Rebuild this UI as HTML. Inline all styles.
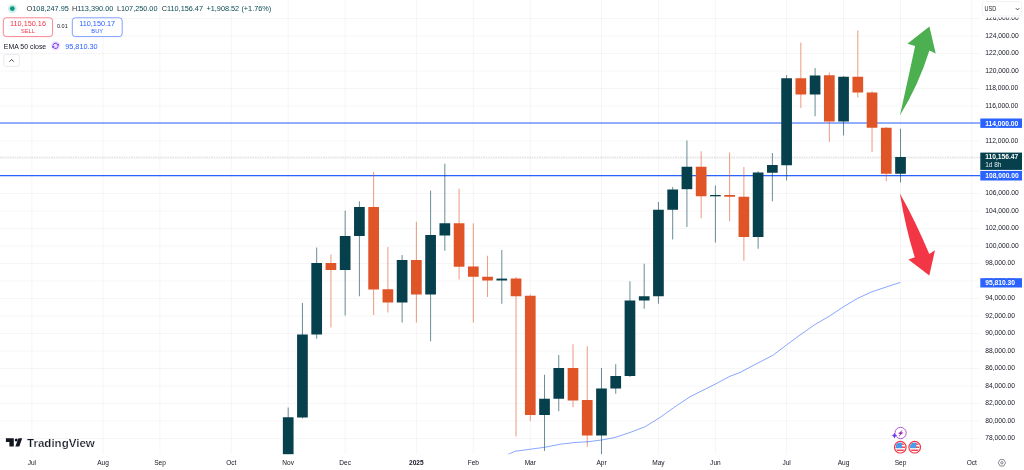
<!DOCTYPE html><html><head><meta charset="utf-8"><title>BTCUSD chart</title>
<style>html,body{margin:0;padding:0;background:#fff}body{width:1024px;height:470px;overflow:hidden}svg{display:block}text{font-family:"Liberation Sans",Arial,sans-serif}</style></head><body>
<svg width="1024" height="470" viewBox="0 0 1024 470">
<rect width="1024" height="470" fill="#fff"/>
<g stroke="#2a2e39" stroke-opacity="0.075" stroke-width="0.6">
<line x1="0" x2="980" y1="438.50" y2="438.50"/>
<line x1="0" x2="980" y1="421.00" y2="421.00"/>
<line x1="0" x2="980" y1="403.50" y2="403.50"/>
<line x1="0" x2="980" y1="386.00" y2="386.00"/>
<line x1="0" x2="980" y1="368.50" y2="368.50"/>
<line x1="0" x2="980" y1="351.00" y2="351.00"/>
<line x1="0" x2="980" y1="333.50" y2="333.50"/>
<line x1="0" x2="980" y1="316.00" y2="316.00"/>
<line x1="0" x2="980" y1="298.50" y2="298.50"/>
<line x1="0" x2="980" y1="281.00" y2="281.00"/>
<line x1="0" x2="980" y1="263.50" y2="263.50"/>
<line x1="0" x2="980" y1="246.00" y2="246.00"/>
<line x1="0" x2="980" y1="228.50" y2="228.50"/>
<line x1="0" x2="980" y1="211.00" y2="211.00"/>
<line x1="0" x2="980" y1="193.50" y2="193.50"/>
<line x1="0" x2="980" y1="176.00" y2="176.00"/>
<line x1="0" x2="980" y1="158.50" y2="158.50"/>
<line x1="0" x2="980" y1="141.00" y2="141.00"/>
<line x1="0" x2="980" y1="123.50" y2="123.50"/>
<line x1="0" x2="980" y1="106.00" y2="106.00"/>
<line x1="0" x2="980" y1="88.50" y2="88.50"/>
<line x1="0" x2="980" y1="71.00" y2="71.00"/>
<line x1="0" x2="980" y1="53.50" y2="53.50"/>
<line x1="0" x2="980" y1="36.00" y2="36.00"/>
<line x1="0" x2="980" y1="18.50" y2="18.50"/>
<line x1="31.88" x2="31.88" y1="0" y2="454.4"/>
<line x1="103.08" x2="103.08" y1="0" y2="454.4"/>
<line x1="160.04" x2="160.04" y1="0" y2="454.4"/>
<line x1="231.24" x2="231.24" y1="0" y2="454.4"/>
<line x1="288.20" x2="288.20" y1="0" y2="454.4"/>
<line x1="345.16" x2="345.16" y1="0" y2="454.4"/>
<line x1="416.36" x2="416.36" y1="0" y2="454.4"/>
<line x1="473.32" x2="473.32" y1="0" y2="454.4"/>
<line x1="530.28" x2="530.28" y1="0" y2="454.4"/>
<line x1="601.48" x2="601.48" y1="0" y2="454.4"/>
<line x1="658.44" x2="658.44" y1="0" y2="454.4"/>
<line x1="715.40" x2="715.40" y1="0" y2="454.4"/>
<line x1="786.60" x2="786.60" y1="0" y2="454.4"/>
<line x1="843.56" x2="843.56" y1="0" y2="454.4"/>
<line x1="900.52" x2="900.52" y1="0" y2="454.4"/>
<line x1="971.72" x2="971.72" y1="0" y2="454.4"/>
</g>
<defs><clipPath id="pane"><rect x="0" y="0" width="980" height="454.4"/></clipPath></defs>
<line x1="0" x2="980" y1="157.2" y2="157.2" stroke="#8a8f99" stroke-width="0.6" stroke-dasharray="0.6 1.1"/>
<line x1="0" x2="981" y1="123" y2="123" stroke="#2962ff" stroke-width="1.15"/>
<line x1="0" x2="981" y1="175.6" y2="175.6" stroke="#2962ff" stroke-width="1.15"/>
<g clip-path="url(#pane)">
<line x1="288.20" x2="288.20" y1="407.5" y2="460" stroke="#07404d" stroke-width="0.6"/>
<rect x="282.85" y="417.25" width="10.7" height="42.75" fill="#07404d"/>
<line x1="302.44" x2="302.44" y1="303" y2="418.5" stroke="#07404d" stroke-width="0.6"/>
<rect x="297.09" y="334.5" width="10.7" height="83.00" fill="#07404d"/>
<line x1="316.68" x2="316.68" y1="247.5" y2="338.75" stroke="#07404d" stroke-width="0.6"/>
<rect x="311.33" y="263" width="10.7" height="71.50" fill="#07404d"/>
<line x1="330.92" x2="330.92" y1="254.5" y2="327.5" stroke="#e05528" stroke-width="0.6"/>
<rect x="325.57" y="263" width="10.7" height="7.00" fill="#e05528"/>
<line x1="345.16" x2="345.16" y1="210.75" y2="315.5" stroke="#07404d" stroke-width="0.6"/>
<rect x="339.81" y="236" width="10.7" height="34.00" fill="#07404d"/>
<line x1="359.40" x2="359.40" y1="201.25" y2="296.25" stroke="#07404d" stroke-width="0.6"/>
<rect x="354.05" y="207" width="10.7" height="29.00" fill="#07404d"/>
<line x1="373.64" x2="373.64" y1="172" y2="315" stroke="#e05528" stroke-width="0.6"/>
<rect x="368.29" y="207" width="10.7" height="82.50" fill="#e05528"/>
<line x1="387.88" x2="387.88" y1="247" y2="312.5" stroke="#e05528" stroke-width="0.6"/>
<rect x="382.53" y="289.25" width="10.7" height="13.25" fill="#e05528"/>
<line x1="402.12" x2="402.12" y1="255" y2="322.5" stroke="#07404d" stroke-width="0.6"/>
<rect x="396.77" y="260" width="10.7" height="42.50" fill="#07404d"/>
<line x1="416.36" x2="416.36" y1="221.75" y2="322.5" stroke="#e05528" stroke-width="0.6"/>
<rect x="411.01" y="260" width="10.7" height="34.50" fill="#e05528"/>
<line x1="430.60" x2="430.60" y1="190.5" y2="341.25" stroke="#07404d" stroke-width="0.6"/>
<rect x="425.25" y="235" width="10.7" height="59.50" fill="#07404d"/>
<line x1="444.84" x2="444.84" y1="163.75" y2="250.75" stroke="#07404d" stroke-width="0.6"/>
<rect x="439.49" y="223.25" width="10.7" height="12.25" fill="#07404d"/>
<line x1="459.08" x2="459.08" y1="188.75" y2="279.5" stroke="#e05528" stroke-width="0.6"/>
<rect x="453.73" y="223.25" width="10.7" height="43.50" fill="#e05528"/>
<line x1="473.32" x2="473.32" y1="223.25" y2="322.5" stroke="#e05528" stroke-width="0.6"/>
<rect x="467.97" y="266.5" width="10.7" height="10.25" fill="#e05528"/>
<line x1="487.56" x2="487.56" y1="255.75" y2="297" stroke="#e05528" stroke-width="0.6"/>
<rect x="482.21" y="276.75" width="10.7" height="3.75" fill="#e05528"/>
<line x1="501.80" x2="501.80" y1="250" y2="303.75" stroke="#07404d" stroke-width="0.6"/>
<rect x="496.45" y="278.6" width="10.7" height="1.90" fill="#07404d"/>
<line x1="516.04" x2="516.04" y1="277" y2="436.5" stroke="#e05528" stroke-width="0.6"/>
<rect x="510.69" y="278.5" width="10.7" height="17.75" fill="#e05528"/>
<line x1="530.28" x2="530.28" y1="294.5" y2="421" stroke="#e05528" stroke-width="0.6"/>
<rect x="524.93" y="295.75" width="10.7" height="119.25" fill="#e05528"/>
<line x1="544.52" x2="544.52" y1="374.75" y2="451" stroke="#07404d" stroke-width="0.6"/>
<rect x="539.17" y="398.75" width="10.7" height="16.25" fill="#07404d"/>
<line x1="558.76" x2="558.76" y1="355" y2="411.25" stroke="#07404d" stroke-width="0.6"/>
<rect x="553.41" y="368" width="10.7" height="30.75" fill="#07404d"/>
<line x1="573.00" x2="573.00" y1="344.25" y2="407.25" stroke="#e05528" stroke-width="0.6"/>
<rect x="567.65" y="368" width="10.7" height="32.50" fill="#e05528"/>
<line x1="587.24" x2="587.24" y1="346.25" y2="446.75" stroke="#e05528" stroke-width="0.6"/>
<rect x="581.89" y="400" width="10.7" height="35.50" fill="#e05528"/>
<line x1="601.48" x2="601.48" y1="368" y2="460" stroke="#07404d" stroke-width="0.6"/>
<rect x="596.13" y="388.5" width="10.7" height="47.00" fill="#07404d"/>
<line x1="615.72" x2="615.72" y1="364.25" y2="393.75" stroke="#07404d" stroke-width="0.6"/>
<rect x="610.37" y="376" width="10.7" height="12.50" fill="#07404d"/>
<line x1="629.96" x2="629.96" y1="281.25" y2="377" stroke="#07404d" stroke-width="0.6"/>
<rect x="624.61" y="300.5" width="10.7" height="75.50" fill="#07404d"/>
<line x1="644.20" x2="644.20" y1="263.75" y2="308.75" stroke="#07404d" stroke-width="0.6"/>
<rect x="638.85" y="296.25" width="10.7" height="4.25" fill="#07404d"/>
<line x1="658.44" x2="658.44" y1="202" y2="303.75" stroke="#07404d" stroke-width="0.6"/>
<rect x="653.09" y="209.75" width="10.7" height="86.50" fill="#07404d"/>
<line x1="672.68" x2="672.68" y1="187" y2="239.5" stroke="#07404d" stroke-width="0.6"/>
<rect x="667.33" y="189.5" width="10.7" height="20.25" fill="#07404d"/>
<line x1="686.92" x2="686.92" y1="140.5" y2="227" stroke="#07404d" stroke-width="0.6"/>
<rect x="681.57" y="166.75" width="10.7" height="22.45" fill="#07404d"/>
<line x1="701.16" x2="701.16" y1="151.25" y2="218.25" stroke="#e05528" stroke-width="0.6"/>
<rect x="695.81" y="166.75" width="10.7" height="29.50" fill="#e05528"/>
<line x1="715.40" x2="715.40" y1="185.5" y2="242.5" stroke="#07404d" stroke-width="0.6"/>
<rect x="710.05" y="195" width="10.7" height="1.30" fill="#07404d"/>
<line x1="729.64" x2="729.64" y1="152.5" y2="221.25" stroke="#e05528" stroke-width="0.6"/>
<rect x="724.29" y="195" width="10.7" height="1.75" fill="#e05528"/>
<line x1="743.88" x2="743.88" y1="167" y2="260.75" stroke="#e05528" stroke-width="0.6"/>
<rect x="738.53" y="196.75" width="10.7" height="40.25" fill="#e05528"/>
<line x1="758.12" x2="758.12" y1="171.25" y2="248.75" stroke="#07404d" stroke-width="0.6"/>
<rect x="752.77" y="172.5" width="10.7" height="64.50" fill="#07404d"/>
<line x1="772.36" x2="772.36" y1="153" y2="201.25" stroke="#07404d" stroke-width="0.6"/>
<rect x="767.01" y="165" width="10.7" height="7.75" fill="#07404d"/>
<line x1="786.60" x2="786.60" y1="75" y2="180.5" stroke="#07404d" stroke-width="0.6"/>
<rect x="781.25" y="78.25" width="10.7" height="87.00" fill="#07404d"/>
<line x1="800.84" x2="800.84" y1="42.5" y2="108" stroke="#e05528" stroke-width="0.6"/>
<rect x="795.49" y="78.25" width="10.7" height="16.25" fill="#e05528"/>
<line x1="815.08" x2="815.08" y1="68" y2="116.25" stroke="#07404d" stroke-width="0.6"/>
<rect x="809.73" y="75.5" width="10.7" height="19.00" fill="#07404d"/>
<line x1="829.32" x2="829.32" y1="72.5" y2="141.75" stroke="#e05528" stroke-width="0.6"/>
<rect x="823.97" y="75.25" width="10.7" height="46.25" fill="#e05528"/>
<line x1="843.56" x2="843.56" y1="76" y2="135.5" stroke="#07404d" stroke-width="0.6"/>
<rect x="838.21" y="76.75" width="10.7" height="44.75" fill="#07404d"/>
<line x1="857.80" x2="857.80" y1="30.5" y2="97.5" stroke="#e05528" stroke-width="0.6"/>
<rect x="852.45" y="76.75" width="10.7" height="15.75" fill="#e05528"/>
<line x1="872.04" x2="872.04" y1="91.25" y2="152" stroke="#e05528" stroke-width="0.6"/>
<rect x="866.69" y="92.5" width="10.7" height="35.25" fill="#e05528"/>
<line x1="886.28" x2="886.28" y1="127" y2="181.25" stroke="#e05528" stroke-width="0.6"/>
<rect x="880.93" y="127.75" width="10.7" height="46.00" fill="#e05528"/>
<line x1="900.52" x2="900.52" y1="128.75" y2="182.5" stroke="#07404d" stroke-width="0.6"/>
<rect x="895.17" y="157" width="10.7" height="16.75" fill="#07404d"/>
<polyline fill="none" stroke="#2962ff" stroke-opacity="0.75" stroke-width="0.75" stroke-linejoin="round" points="507.5,454.75 515,451.25 530,449.25 545,447.25 560,444.25 575,442.5 587.5,441.75 601.5,440 615,437.5 630,432.5 645,426.75 660,417.5 675,406.75 690,396.75 715,384.25 730,376.25 740,372.5 755,364.5 772.5,355.5 786.5,345 800,335 815,324.5 829.25,316.25 843.5,306.75 857.75,298.25 872,291.75 886.25,287 900.4,282.4"/>
</g>
<path d="M929.4 26.4 L907.4 43.8 L915.1 46 Q908.5 77 900 115.2 Q919 84 929.4 50.4 L935.7 53.6 Z" fill="#4caf50"/>
<path d="M899.9 193.4 Q905.5 228 914.8 257.3 L908.4 259.6 L929.3 275.5 L935 250.3 L929.3 254.1 Q916 222 899.9 193.4 Z" fill="#f23645"/>
<circle cx="12.3" cy="8.6" r="4.4" fill="#cfeee8"/><circle cx="12.3" cy="8.6" r="2.4" fill="#089981"/>
<text x="26.6" y="11.3" font-size="7.3" fill="#2a2e39">O<tspan fill="#0b4a55">108,247.95</tspan></text>
<text x="72" y="11.3" font-size="7.3" fill="#2a2e39">H<tspan fill="#0b4a55">113,390.00</tspan></text>
<text x="116.9" y="11.3" font-size="7.3" fill="#2a2e39">L<tspan fill="#0b4a55">107,250.00</tspan></text>
<text x="161.7" y="11.3" font-size="7.3" fill="#2a2e39">C<tspan fill="#0b4a55">110,156.47</tspan></text>
<text x="206.5" y="11.3" font-size="7.3" fill="#0b4a55">+1,908.52</text>
<text x="241.4" y="11.3" font-size="7.3" fill="#0b4a55">(+1.76%)</text>
<rect x="3.3" y="17.8" width="49.3" height="18.8" rx="3" fill="#fff" stroke="#f23645" stroke-width="0.6"/>
<text x="28" y="26" font-size="7.3" fill="#f23645" text-anchor="middle">110,150.16</text>
<text x="28" y="33.2" font-size="5.7" fill="#f23645" text-anchor="middle">SELL</text>
<text x="62.4" y="28.4" font-size="5.5" fill="#131722" text-anchor="middle">0.01</text>
<rect x="72.3" y="17.8" width="49.9" height="18.8" rx="3" fill="#fff" stroke="#2962ff" stroke-width="0.6"/>
<text x="97.2" y="26" font-size="7.3" fill="#2962ff" text-anchor="middle">110,150.17</text>
<text x="97.2" y="33.2" font-size="5.7" fill="#2962ff" text-anchor="middle">BUY</text>
<text x="3.8" y="48.7" font-size="6.95" fill="#131722">EMA 50 close</text>
<circle cx="55.55" cy="45.8" r="4.8" fill="#eee5fd"/>
<g fill="none" stroke="#7130f0" stroke-width="1" stroke-linecap="butt"><path d="M52.95 45.3 A2.65 2.65 0 0 1 57.7 44.25"/><path d="M58.15 46.3 A2.65 2.65 0 0 1 53.4 47.35"/></g>
<path d="M58.9 43.5 L58.6 46.1 L56.3 44.9 Z M52.2 48.1 L52.5 45.5 L54.8 46.7 Z" fill="#7130f0"/>
<text x="65.2" y="48.7" font-size="7.3" fill="#2962ff">95,810.30</text>
<rect x="3.8" y="54.6" width="15.6" height="11.8" rx="2" fill="#fff" stroke="#d9dce3" stroke-width="0.6"/>
<path d="M9.7 61.4 L11.6 59.5 L13.5 61.4" fill="none" stroke="#131722" stroke-width="0.8" stroke-linecap="round" stroke-linejoin="round"/>
<rect x="980" y="0" width="44" height="470" fill="#fff"/>
<text x="985.2" y="440.35" font-size="6.7" fill="#131722">78,000.00</text>
<text x="985.2" y="422.85" font-size="6.7" fill="#131722">80,000.00</text>
<text x="985.2" y="405.35" font-size="6.7" fill="#131722">82,000.00</text>
<text x="985.2" y="387.85" font-size="6.7" fill="#131722">84,000.00</text>
<text x="985.2" y="370.35" font-size="6.7" fill="#131722">86,000.00</text>
<text x="985.2" y="352.85" font-size="6.7" fill="#131722">88,000.00</text>
<text x="985.2" y="335.35" font-size="6.7" fill="#131722">90,000.00</text>
<text x="985.2" y="317.85" font-size="6.7" fill="#131722">92,000.00</text>
<text x="985.2" y="300.35" font-size="6.7" fill="#131722">94,000.00</text>
<text x="985.2" y="282.85" font-size="6.7" fill="#131722">96,000.00</text>
<text x="985.2" y="265.35" font-size="6.7" fill="#131722">98,000.00</text>
<text x="985.2" y="247.85" font-size="6.7" fill="#131722">100,000.00</text>
<text x="985.2" y="230.35" font-size="6.7" fill="#131722">102,000.00</text>
<text x="985.2" y="212.85" font-size="6.7" fill="#131722">104,000.00</text>
<text x="985.2" y="195.35" font-size="6.7" fill="#131722">106,000.00</text>
<text x="985.2" y="177.85" font-size="6.7" fill="#131722">108,000.00</text>
<text x="985.2" y="160.35" font-size="6.7" fill="#131722">110,000.00</text>
<text x="985.2" y="142.85" font-size="6.7" fill="#131722">112,000.00</text>
<text x="985.2" y="125.35" font-size="6.7" fill="#131722">114,000.00</text>
<text x="985.2" y="107.85" font-size="6.7" fill="#131722">116,000.00</text>
<text x="985.2" y="90.35" font-size="6.7" fill="#131722">118,000.00</text>
<text x="985.2" y="72.85" font-size="6.7" fill="#131722">120,000.00</text>
<text x="985.2" y="55.35" font-size="6.7" fill="#131722">122,000.00</text>
<text x="985.2" y="37.85" font-size="6.7" fill="#131722">124,000.00</text>
<text x="985.2" y="20.35" font-size="6.7" fill="#131722">126,000.00</text>
<rect x="981" y="-2" width="43" height="19.5" fill="#fff"/>
<rect x="982.3" y="1.5" width="39.2" height="14.5" rx="2.5" fill="#fff" stroke="#e7e9ee" stroke-width="0.6"/>
<text x="984.6" y="11.3" font-size="6.9" fill="#131722" textLength="11.6" lengthAdjust="spacingAndGlyphs">USD</text>
<path d="M1016.2 8.5 L1017.6 9.9 L1019 8.5" fill="none" stroke="#131722" stroke-width="0.8" stroke-linecap="round" stroke-linejoin="round"/>
<rect x="980.3" y="118.5" width="41.7" height="9.40" fill="#2962ff"/>
<text x="985.2" y="125.5" font-size="6.7" font-weight="bold" fill="#fff">114,000.00</text>
<rect x="980.3" y="152.6" width="41.7" height="17.30" fill="#07404d"/>
<text x="985.2" y="159.2" font-size="6.7" font-weight="bold" fill="#fff">110,156.47</text>
<text x="985.2" y="167.1" font-size="6.5" fill="#e3ecee">1d 8h</text>
<rect x="980.3" y="170.9" width="41.7" height="9.60" fill="#2962ff"/>
<text x="985.2" y="178.0" font-size="6.7" font-weight="bold" fill="#fff">108,000.00</text>
<rect x="980.3" y="278.2" width="41.7" height="9.30" fill="#2962ff"/>
<text x="985.2" y="285.2" font-size="6.7" font-weight="bold" fill="#fff">95,810.30</text>
<rect x="0" y="454.4" width="1024" height="15.600000000000023" fill="#fff"/>
<text x="31.88" y="465.0" font-size="6.55" fill="#131722" text-anchor="middle">Jul</text>
<text x="103.08" y="465.0" font-size="6.55" fill="#131722" text-anchor="middle">Aug</text>
<text x="160.04" y="465.0" font-size="6.55" fill="#131722" text-anchor="middle">Sep</text>
<text x="231.24" y="465.0" font-size="6.55" fill="#131722" text-anchor="middle">Oct</text>
<text x="288.20" y="465.0" font-size="6.55" fill="#131722" text-anchor="middle">Nov</text>
<text x="345.16" y="465.0" font-size="6.55" fill="#131722" text-anchor="middle">Dec</text>
<text x="416.36" y="465.0" font-size="6.55" fill="#131722" text-anchor="middle" font-weight="bold">2025</text>
<text x="473.32" y="465.0" font-size="6.55" fill="#131722" text-anchor="middle">Feb</text>
<text x="530.28" y="465.0" font-size="6.55" fill="#131722" text-anchor="middle">Mar</text>
<text x="601.48" y="465.0" font-size="6.55" fill="#131722" text-anchor="middle">Apr</text>
<text x="658.44" y="465.0" font-size="6.55" fill="#131722" text-anchor="middle">May</text>
<text x="715.40" y="465.0" font-size="6.55" fill="#131722" text-anchor="middle">Jun</text>
<text x="786.60" y="465.0" font-size="6.55" fill="#131722" text-anchor="middle">Jul</text>
<text x="843.56" y="465.0" font-size="6.55" fill="#131722" text-anchor="middle">Aug</text>
<text x="900.52" y="465.0" font-size="6.55" fill="#131722" text-anchor="middle">Sep</text>
<text x="971.72" y="465.0" font-size="6.55" fill="#131722" text-anchor="middle">Oct</text>
<polygon points="1005.60,462.80 1003.75,466.00 1000.05,466.00 998.20,462.80 1000.05,459.60 1003.75,459.60" fill="none" stroke="#555a66" stroke-width="0.7" stroke-linejoin="round"/>
<circle cx="1001.9" cy="462.8" r="1.2" fill="none" stroke="#555a66" stroke-width="0.7"/>
<circle cx="900.6" cy="433.0" r="5.65" fill="#fff" stroke="#b04fd0" stroke-width="0.95"/>
<path d="M902.1 430.4 L898.5 433.6 L900.5 433.9 L898.9 436.3 L902.9 432.7 L900.8 432.3 Z" fill="#9c27b0" stroke="#9c27b0" stroke-width="0.35" stroke-linejoin="round"/>
<path d="M894.5 432.4 Q895 434.9 897.5 435.4 Q895 435.9 894.5 438.4 Q894 435.9 891.5 435.4 Q894 434.9 894.5 432.4 Z" fill="#6a3de8" stroke="#fff" stroke-width="0.7" paint-order="stroke"/>
<clipPath id="f900"><circle cx="900.3" cy="447.2" r="4.75"/></clipPath>
<circle cx="900.3" cy="447.2" r="5.8" fill="#fff" stroke="#f23645" stroke-width="1.2"/>
<g clip-path="url(#f900)">
<rect x="895.3" y="442.2" width="10" height="10" fill="#fff"/>
<rect x="895.3" y="443.35" width="10" height="1.5" fill="#f0434f"/>
<rect x="895.3" y="446.45" width="10" height="1.5" fill="#f0434f"/>
<rect x="895.3" y="449.55" width="10" height="1.5" fill="#f0434f"/>
<rect x="895.3" y="442.2" width="6.6" height="6.0" fill="#4a9be8"/>
</g>
<clipPath id="f914"><circle cx="914.7" cy="447.2" r="4.75"/></clipPath>
<circle cx="914.7" cy="447.2" r="5.8" fill="#fff" stroke="#f23645" stroke-width="1.2"/>
<g clip-path="url(#f914)">
<rect x="909.7" y="442.2" width="10" height="10" fill="#fff"/>
<rect x="909.7" y="443.35" width="10" height="1.5" fill="#f0434f"/>
<rect x="909.7" y="446.45" width="10" height="1.5" fill="#f0434f"/>
<rect x="909.7" y="449.55" width="10" height="1.5" fill="#f0434f"/>
<rect x="909.7" y="442.2" width="6.6" height="6.0" fill="#4a9be8"/>
</g>
<g fill="#131722"><path d="M5.9 438.3 H13.8 V446.6 H9.4 V441.9 H5.9 Z"/><circle cx="16.25" cy="439.95" r="1.5"/><path d="M18.5 438.3 H22.2 L19.3 446.6 H15.3 Z"/></g>
<text x="27" y="446.6" font-size="11.4" font-weight="bold" fill="#131722" stroke="#fff" stroke-width="0.22" textLength="67.8" lengthAdjust="spacingAndGlyphs">TradingView</text>
</svg></body></html>
